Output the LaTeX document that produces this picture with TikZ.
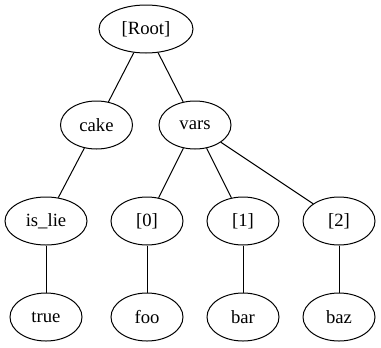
\documentclass[tikz,border=0pt]{standalone}
\usepackage{fontspec}
\setmainfont{Liberation Serif}
\usetikzlibrary{shapes.geometric}
\tikzset{key/.style={shape=ellipse,draw=black,line width=0.75pt,minimum width=54pt,minimum height=36pt,inner sep=0pt,font=\fontsize{14}{16}\selectfont}}
\tikzset{branch/.style={black,line width=0.75pt}}

\begin{document}
\begin{tikzpicture}[x=0.75pt,y=-0.75pt]
    \useasboundingbox (0,0) rectangle (381,347);
    % top two levels
    \node[key,minimum width=70.5pt] (root) at (146,29) {[Root]};
    \node[key] (cake) at (96.5,125) {cake};
    \node[key] (vars) at (195,125) {vars};
    % third level
    \node[key,minimum width=61.5pt] (isLie) at (46,221) {is\_lie};
    \node[key] (varsA) at (147,221) {[0]};
    \node[key] (varsB) at (243,221) {[1]};
    \node[key] (varsC) at (339,221) {[2]};
    % leaves
    \node[key] (true) at (46,317) {true};
    \node[key] (foo) at (147,317) {foo};
    \node[key] (bar) at (243,317) {bar};
    \node[key] (baz) at (339,317) {baz};
    \draw[branch] (root) -- (cake);
    \draw[branch] (root) -- (vars);
    \draw[branch] (cake) -- (isLie);
    \draw[branch] (vars) -- (varsA);
    \draw[branch] (vars) -- (varsB);
    \draw[branch] (vars) -- (varsC);
    \draw[branch] (isLie) -- (true);
    \draw[branch] (varsA) -- (foo);
    \draw[branch] (varsB) -- (bar);
    \draw[branch] (varsC) -- (baz);
  \end{tikzpicture}
\end{document}
